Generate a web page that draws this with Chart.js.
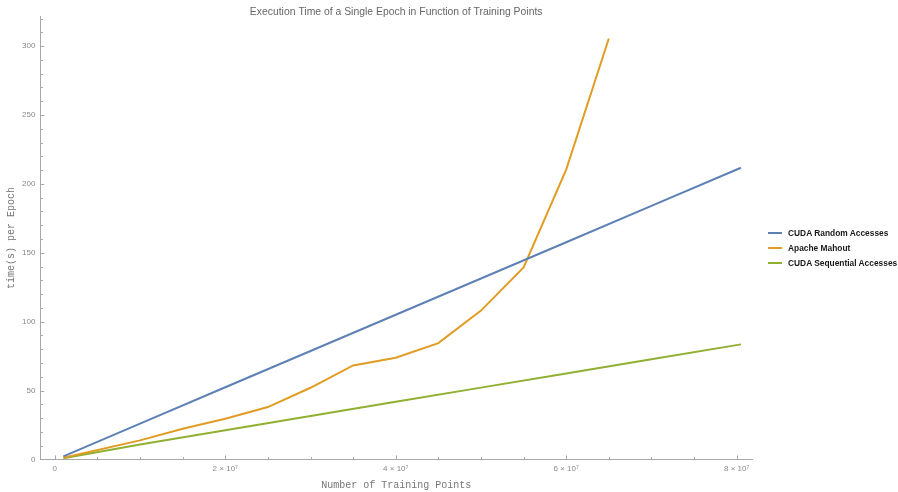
<!DOCTYPE html>
<html>
<head>
<meta charset="utf-8">
<script src="https://cdn.jsdelivr.net/npm/chart.js@4.4.0/dist/chart.umd.min.js"></script>
<style>
  body { margin: 0; background: #fff; }
  #wrap { position: relative; width: 898px; height: 492px; }
  #legend {
    position: absolute; left: 768px; top: 225px;
    font: bold 8.4px "Liberation Sans", Arial, sans-serif; color: #1a1a1a;
  }
  .item { height: 15px; display: flex; align-items: center; white-space: nowrap; }
  .swatch { width: 14px; height: 2px; margin-right: 6px; }
</style>
</head>
<body>
<div id="wrap">
  <canvas id="chart"></canvas>
  <div id="legend"></div>
</div>
<script>
// Datos: tamaño del conjunto de entrenamiento y tiempo por época (s)
const mahoutPoints = [1e6, 1e7, 1.5e7, 2e7, 2.5e7, 3e7, 3.5e7, 4e7, 4.5e7, 5e7, 5.5e7, 6e7, 6.5e7];
const mahoutTimes = [1.2, 13.8, 22.3, 29.5, 38, 52, 68.2, 73.8, 84.4, 108, 139.3, 210.4, 305.5];

const cudaPoints = [1e6, 1e7, 2e7, 3e7, 4e7, 5e7, 6e7, 7e7, 8.05e7];
const cudaRandomTimes = [2.2, 26, 52.4, 78.7, 105, 131.3, 157.6, 184, 211.7];
const cudaSequentialTimes = [0.8, 10.8, 21.2, 31.5, 41.8, 52.1, 62.4, 72.7, 83.5];

const seriesNames = ["CUDA Random Accesses", "Apache Mahout", "CUDA Sequential Accesses"];
const seriesColors = ["#5e81b5", "#e19c24", "#8fb032"];

const xTicks = [0, 2e7, 4e7, 6e7, 8e7];
const yTicks = [0, 50, 100, 150, 200, 250, 300];

const tickColor = "#888";
const axisColor = "#a8a8a8";

function toXY(xs, ys) {
  return xs.map((x, i) => ({ x: x, y: ys[i] }));
}

// Marcas de eje hacia dentro (mayores y menores)
const inwardTicks = {
  id: "inwardTicks",
  beforeDatasetsDraw(chart) {
    const ctx = chart.ctx;
    const xs = chart.scales.x;
    const ys = chart.scales.y;
    const area = chart.chartArea;
    ctx.save();
    ctx.strokeStyle = axisColor;
    ctx.lineWidth = 1;
    ctx.beginPath();
    for (let v = 0; v <= 8e7; v += 5e6) {
      const px = Math.round(xs.getPixelForValue(v)) + 0.5;
      const len = v % 2e7 === 0 ? 4 : 2.5;
      ctx.moveTo(px, area.bottom);
      ctx.lineTo(px, area.bottom - len);
    }
    for (let v = 0; v <= 320; v += 10) {
      const py = Math.round(ys.getPixelForValue(v)) + 0.5;
      const len = v % 50 === 0 ? 4 : 2.5;
      ctx.moveTo(area.left, py);
      ctx.lineTo(area.left + len, py);
    }
    ctx.stroke();
    ctx.restore();
  }
};

const datasets = [
  { data: toXY(cudaPoints, cudaRandomTimes) },
  { data: toXY(mahoutPoints, mahoutTimes) },
  { data: toXY(cudaPoints, cudaSequentialTimes) }
].map((d, i) => ({
  label: seriesNames[i],
  data: d.data,
  borderColor: seriesColors[i],
  backgroundColor: seriesColors[i],
  borderWidth: 2,
  pointRadius: 0,
  tension: 0,
  fill: false
}));

const ctx = document.getElementById("chart").getContext("2d");
new Chart(ctx, {
  type: "line",
  data: { datasets: datasets },
  plugins: [inwardTicks],
  options: {
    responsive: true,
    maintainAspectRatio: false,
    animation: false,
    layout: { padding: { left: 3, right: 146, top: 0, bottom: 0 } },
    plugins: {
      legend: { display: false },
      tooltip: { enabled: false },
      title: {
        display: true,
        fullSize: false,
        text: "Execution Time of a Single Epoch in Function of Training Points",
        color: "#666",
        font: { family: "Liberation Sans", size: 10.4, weight: "normal" },
        padding: { top: 6, bottom: -2 }
      }
    },
    scales: {
      x: {
        type: "linear",
        min: -1.7e6,
        max: 81.8e6,
        afterBuildTicks: (scale) => { scale.ticks = xTicks.map(v => ({ value: v })); },
        ticks: {
          color: tickColor,
          font: { family: "Liberation Sans", size: 8 },
          padding: 5,
          maxRotation: 0,
          callback: (v) => v === 0 ? "0" : (v / 1e7) + " \u00d7 10\u2077"
        },
        grid: { display: false, drawTicks: false },
        border: { display: true, color: axisColor, width: 1 },
        title: {
          display: true,
          text: "Number of Training Points",
          color: "#777",
          font: { family: "Liberation Mono", size: 10 },
          padding: { top: 0, bottom: 1 }
        }
      },
      y: {
        min: 0,
        max: 321.5,
        afterBuildTicks: (scale) => { scale.ticks = yTicks.map(v => ({ value: v })); },
        ticks: {
          color: tickColor,
          font: { family: "Liberation Sans", size: 8 },
          padding: 5
        },
        grid: { display: false, drawTicks: false },
        border: { display: true, color: axisColor, width: 1 },
        title: {
          display: true,
          text: "time(s) per Epoch",
          color: "#777",
          font: { family: "Liberation Mono", size: 10 },
          padding: { top: 2, bottom: 0 }
        }
      }
    }
  }
});

// Leyenda a la derecha del gráfico
const legendEl = document.getElementById("legend");
seriesNames.forEach((name, i) => {
  const item = document.createElement("div");
  item.className = "item";
  const sw = document.createElement("span");
  sw.className = "swatch";
  sw.style.background = seriesColors[i];
  const label = document.createElement("span");
  label.textContent = name;
  item.appendChild(sw);
  item.appendChild(label);
  legendEl.appendChild(item);
});
</script>
</body>
</html>
